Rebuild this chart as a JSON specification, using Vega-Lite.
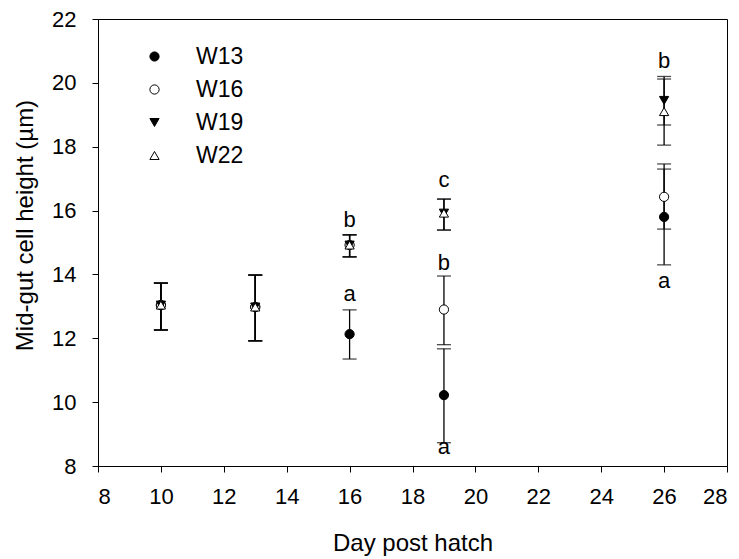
{
  "$schema": "https://vega.github.io/schema/vega-lite/v6.json",
  "width": 629,
  "height": 447,
  "autosize": {"type": "none"},
  "padding": {"left": 98, "top": 19, "right": 12, "bottom": 93},
  "background": "white",
  "config": {
    "font": "Liberation Sans",
    "view": {"stroke": "black", "strokeWidth": 1},
    "axis": {
      "grid": false,
      "domainColor": "black",
      "tickColor": "black",
      "tickSize": 6,
      "labelColor": "black",
      "titleColor": "black",
      "labelFontSize": 22,
      "titleFontSize": 24,
      "titleFontWeight": "normal"
    },
    "legend": {
      "labelFontSize": 23,
      "labelColor": "black",
      "rowPadding": 9,
      "labelOffset": 30,
      "symbolSize": 85,
      "symbolStrokeWidth": 1
    }
  },
  "datasets": {
    "pts": [
      {"day": 10, "group": "W13", "mean": 13.04, "lo": 12.26, "hi": 13.73},
      {"day": 10, "group": "W16", "mean": 13.04, "lo": 12.26, "hi": 13.73},
      {"day": 10, "group": "W19", "mean": 13.04, "lo": 12.26, "hi": 13.73},
      {"day": 10, "group": "W22", "mean": 13.04, "lo": 12.26, "hi": 13.73},
      {"day": 13, "group": "W13", "mean": 12.98, "lo": 11.92, "hi": 13.98},
      {"day": 13, "group": "W16", "mean": 12.98, "lo": 11.92, "hi": 13.98},
      {"day": 13, "group": "W19", "mean": 12.98, "lo": 11.92, "hi": 13.98},
      {"day": 13, "group": "W22", "mean": 12.98, "lo": 11.92, "hi": 13.98},
      {"day": 16, "group": "W13", "mean": 12.13, "lo": 11.35, "hi": 12.89},
      {"day": 16, "group": "W16", "mean": 14.92, "lo": 14.55, "hi": 15.24},
      {"day": 16, "group": "W19", "mean": 14.92, "lo": 14.55, "hi": 15.24},
      {"day": 16, "group": "W22", "mean": 14.92, "lo": 14.55, "hi": 15.24},
      {"day": 19, "group": "W13", "mean": 10.22, "lo": 8.73, "hi": 11.67},
      {"day": 19, "group": "W16", "mean": 12.9, "lo": 11.8, "hi": 13.95},
      {"day": 19, "group": "W19", "mean": 15.92, "lo": 15.39, "hi": 16.36},
      {"day": 19, "group": "W22", "mean": 15.92, "lo": 15.39, "hi": 16.36},
      {"day": 26, "group": "W13", "mean": 15.8, "lo": 14.3, "hi": 17.3},
      {"day": 26, "group": "W16", "mean": 16.43, "lo": 15.42, "hi": 17.46},
      {"day": 26, "group": "W19", "mean": 19.45, "lo": 18.68, "hi": 20.2},
      {"day": 26, "group": "W22", "mean": 19.1, "lo": 18.05, "hi": 20.12}
    ],
    "letters": [
      {"day": 16, "y": 15.7, "txt": "b"},
      {"day": 16, "y": 13.4, "txt": "a"},
      {"day": 19, "y": 16.96, "txt": "c"},
      {"day": 19, "y": 14.35, "txt": "b"},
      {"day": 19, "y": 8.6, "txt": "a"},
      {"day": 26, "y": 20.7, "txt": "b"},
      {"day": 26, "y": 13.8, "txt": "a"}
    ]
  },
  "layer": [
    {
      "data": {"name": "pts"},
      "mark": {"type": "rule", "color": "black", "strokeWidth": 1.3},
      "encoding": {
        "x": {"field": "day", "type": "quantitative", "scale": {"domain": [8, 28]}, "axis": {"values": [8,10,12,14,16,18,20,22,24,26,28], "title": "Day post hatch", "labelPadding": 14, "titlePadding": 24}},
        "y": {"field": "lo", "type": "quantitative", "scale": {"domain": [8, 22]}, "axis": {"values": [8,10,12,14,16,18,20,22], "title": "Mid-gut cell height (µm)", "labelPadding": 16, "titlePadding": 14, "titleY": 206}},
        "y2": {"field": "hi"}
      }
    },
    {
      "data": {"name": "pts"},
      "mark": {"type": "tick", "orient": "horizontal", "color": "black", "size": 14, "thickness": 1.3},
      "encoding": {
        "x": {"field": "day", "type": "quantitative"},
        "y": {"field": "lo", "type": "quantitative"}
      }
    },
    {
      "data": {"name": "pts"},
      "mark": {"type": "tick", "orient": "horizontal", "color": "black", "size": 14, "thickness": 1.3},
      "encoding": {
        "x": {"field": "day", "type": "quantitative"},
        "y": {"field": "hi", "type": "quantitative"}
      }
    },
    {
      "data": {"name": "pts"},
      "mark": {"type": "point", "filled": true, "strokeWidth": 1, "size": 85, "opacity": 1},
      "encoding": {
        "x": {"field": "day", "type": "quantitative"},
        "y": {"field": "mean", "type": "quantitative"},
        "shape": {"field": "group", "type": "nominal", "scale": {"domain": ["W13","W16","W19","W22"], "range": ["circle","circle","triangle-down","triangle-up"]}, "legend": {"title": null, "orient": "none", "legendX": 45, "legendY": 26}},
        "fill": {"field": "group", "type": "nominal", "scale": {"domain": ["W13","W16","W19","W22"], "range": ["black","white","black","white"]}, "legend": {"title": null, "orient": "none", "legendX": 45, "legendY": 26}},
        "stroke": {"field": "group", "type": "nominal", "scale": {"domain": ["W13","W16","W19","W22"], "range": ["black","black","black","black"]}, "legend": {"title": null, "orient": "none", "legendX": 45, "legendY": 26}}
      }
    },
    {
      "data": {"name": "letters"},
      "mark": {"type": "text", "fontSize": 22, "color": "black", "baseline": "middle", "align": "center"},
      "encoding": {
        "x": {"field": "day", "type": "quantitative"},
        "y": {"field": "y", "type": "quantitative"},
        "text": {"field": "txt"}
      }
    }
  ]
}
